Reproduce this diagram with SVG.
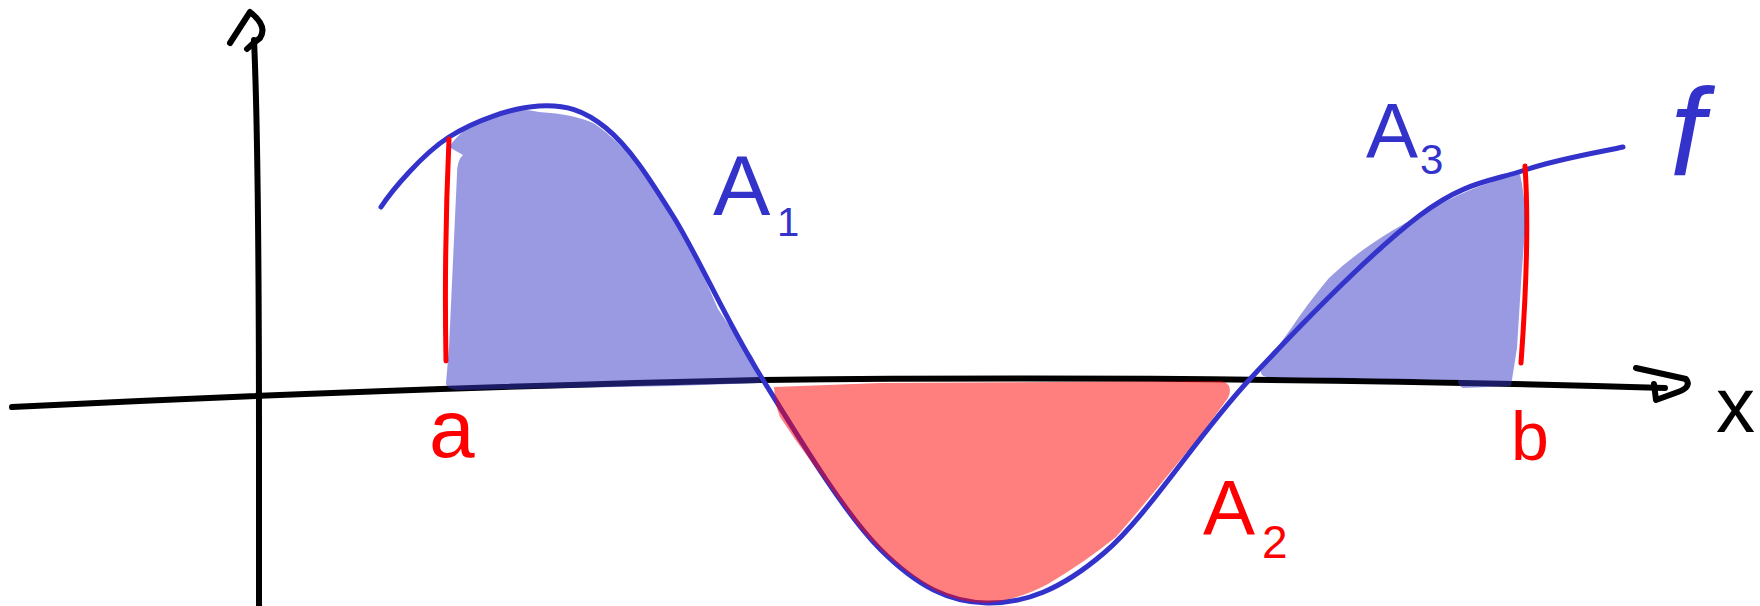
<svg xmlns="http://www.w3.org/2000/svg" width="1760" height="606" viewBox="0 0 1760 606">
<style>
.ax{fill:none;stroke:#000;stroke-width:6;stroke-linecap:round;stroke-linejoin:round}
.fn{fill:none;stroke:#3333cc;stroke-width:5;stroke-linecap:round;stroke-linejoin:round}
.lim{fill:none;stroke:#ff0000;stroke-width:5;stroke-linecap:round}
.pos{fill:#3535c8;fill-opacity:0.5}
.neg{fill:#ff0000;fill-opacity:0.5}
.tb{font-family:"Liberation Sans",Arial,sans-serif;fill:#3333cc}
.tr{font-family:"Liberation Sans",Arial,sans-serif;fill:#ff0000}
.tk{font-family:"Liberation Sans",Arial,sans-serif;fill:#000}
</style>
<rect width="1760" height="606" fill="#fff"/>
<g id="axes">
  <path class="ax" d="M259,606 L259,450 Q259,150 254,40"/>
  <path class="ax" d="M230,43 L250,12 Q268,26 260,38 Q252,44 247,49"/>
  <path class="ax" d="M12,407 Q400,388 760,380 Q1250,375 1665,388"/>
  <path class="ax" d="M1636,368 L1686,379 Q1692,387 1678,392 L1656,400 L1654,384"/>
  <text class="tk" x="1716" y="432" font-size="78">x</text>
</g>
<g id="function-f">
  <path class="fn" d="M381,207 C392,190 422.7,153.8 449,137 C475.3,120.2 512.8,107.5 539,106 C565.2,104.5 583.7,109.7 606,128 C628.3,146.3 647.3,174.8 673,216 C698.7,257.2 725.5,319.5 760,375 C794.5,430.5 842.2,511 880,549 C917.8,587 949.7,602.3 987,603 C1024.3,603.7 1060.2,590.3 1104,553 C1147.8,515.7 1197.5,435.2 1250,379 C1302.5,322.8 1373.2,250.8 1419,216 C1464.8,181.2 1491,181.5 1525,170 C1559,158.5 1606.7,150.8 1623,147"/>
  <text class="tb" x="1670" y="175" font-size="124" font-style="italic">f</text>
</g>
<g id="limits">
  <path class="lim" d="M449,139 Q444,250 446,361"/>
  <path class="lim" d="M1525,166 Q1530,240 1521,363"/>
  <text class="tr" x="429" y="457" font-size="82">a</text>
  <text class="tr" x="1511" y="460" font-size="68">b</text>
</g>
<g id="area-A1">
  <path class="pos" d="M449,147 Q462,128 488,116 Q512,106 539,112 Q575,114 595,124 Q618,140 634,162 Q652,186 668,209 Q684,234 696,259 Q708,286 718,309 Q735,335 752,356 Q760,370 760,383 L673,386 L460,390 Q446,390 446,383 L449,348 L457,174 Q457,160 463,155 Z"/>
  <text class="tb" x="713" y="215" font-size="86">A</text>
  <text class="tb" x="777" y="236" font-size="40">1</text>
</g>
<g id="area-A2">
  <path class="neg" d="M774,387 Q775,405 780,417 Q795,440 813,464 Q832,490 850,515 Q862,532 880,549 Q906,574 936,591 Q960,603 987,603 Q1018,600 1048,584 Q1085,562 1116,537 Q1148,500 1177,464 Q1205,430 1228,398 Q1234,385 1222,381 L880,383 Z"/>
  <text class="tr" x="1203" y="535" font-size="78">A</text>
  <text class="tr" x="1262" y="558" font-size="46">2</text>
</g>
<g id="area-A3">
  <path class="pos" d="M1261,371 Q1275,350 1290,330 Q1308,303 1329,278 Q1348,260 1370,245 Q1393,229 1419,216 Q1444,201 1470,190 Q1495,180 1520,174 Q1526,200 1525,232 Q1522,265 1520,300 L1517,348 L1511,386 L1463,388 Q1458,386 1458,380 L1273,377 Q1260,378 1261,371 Z"/>
  <text class="tb" x="1366" y="158" font-size="78">A</text>
  <text class="tb" x="1420" y="174" font-size="42">3</text>
</g>
</svg>
